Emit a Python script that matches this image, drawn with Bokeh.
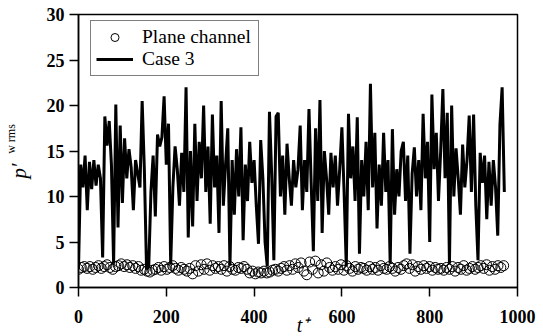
import numpy as np
from bokeh.plotting import figure
from bokeh.models import Range1d, FixedTicker, Legend, LegendItem, Title
from bokeh.embed import file_html
from bokeh.resources import INLINE

# ---------------- data ----------------
case3_t_start, case3_t_step = 0, 5
case3_values = [
    2.0, 13.5, 11.0, 14.5, 8.5, 13.8, 10.8, 14.0, 11.2, 13.5,
    12.0, 3.3, 18.8, 15.6, 18.3, 13.5, 2.6, 20.1, 6.6, 17.8,
    9.3, 16.4, 12.0, 15.2, 13.2, 8.5, 14.0, 12.5, 11.0, 20.5,
    13.0, 2.0, 2.3, 10.5, 14.5, 7.8, 16.8, 15.5, 16.5, 21.0,
    13.5, 18.0, 2.5, 11.0, 15.5, 13.0, 9.0, 14.8, 10.5, 22.0,
    5.5, 15.0, 6.7, 18.0, 9.5, 16.0, 12.0, 20.0, 10.5, 15.5,
    7.0, 19.0, 11.0, 14.5, 6.0, 20.5, 9.0, 13.5, 17.5, 2.4,
    14.0, 8.0, 15.2, 10.0, 17.6, 5.2, 13.5, 9.5, 16.0, 11.5,
    14.0, 9.0, 4.8, 16.2, 12.0, 5.0, 2.3, 19.3, 12.5, 3.0,
    18.8, 19.2, 10.0, 14.5, 8.0, 15.8, 12.0, 9.0, 14.0, 11.0,
    13.0, 17.8, 8.5, 14.0, 10.5, 19.6, 11.5, 4.0, 17.5, 9.5,
    20.6, 6.0, 15.0, 12.0, 8.0, 14.8, 11.0, 14.5, 9.0, 13.0,
    17.6, 10.5, 2.3, 19.1, 12.0, 15.5, 9.5, 18.7, 3.7, 14.0,
    10.0, 16.0, 8.5, 22.4, 11.0, 17.0, 6.5, 13.5, 9.0, 17.0,
    10.5, 14.0, 2.6, 17.4, 8.0, 13.0, 10.0, 15.0, 16.0, 9.5,
    14.5, 3.7, 12.5, 15.4, 10.0, 14.0, 8.5, 19.1, 12.0, 16.0,
    5.0, 21.2, 13.0, 17.0, 9.5, 15.0, 21.8, 12.0, 19.2, 2.6,
    20.0, 10.0, 15.3, 12.0, 8.0, 15.7, 11.0, 14.0, 18.9, 10.5,
    19.0, 9.0, 3.0, 14.8, 11.5, 14.5, 7.5, 13.8, 9.0, 14.0,
    11.0, 5.7, 17.9, 22.0, 10.5,
]

plane_t_start, plane_t_step = 0, 6.5
plane_values = [
    2.0, 2.2, 2.3, 2.1, 2.3, 2.0, 2.2, 2.4, 2.1, 2.3,
    2.5, 2.2, 2.0, 2.3, 2.4, 2.6, 2.3, 2.5, 2.2, 2.4,
    2.1, 2.3, 1.9, 2.0, 1.8, 1.7, 1.9, 2.0, 2.2, 1.9,
    2.3, 2.0, 2.2, 2.4, 2.1, 1.9, 2.2, 2.0, 1.8, 2.1,
    1.5, 2.4, 1.8, 2.5, 2.0, 2.6, 1.9, 2.4, 2.1, 2.3,
    2.0, 2.4, 1.8, 2.3, 2.0, 1.9, 2.2, 2.1, 2.3, 2.0,
    1.6, 1.8, 1.5, 1.7, 1.6, 1.8, 1.6, 1.7, 1.9, 2.0,
    1.8, 2.1, 2.3, 1.9, 2.4, 2.0, 2.6, 2.2, 2.7, 1.8,
    1.4, 2.8, 2.0, 2.9, 1.6, 2.5, 1.8, 2.7, 2.2, 1.9,
    2.3, 2.0, 2.5, 1.9, 2.4, 2.1, 1.8, 2.3, 2.0, 2.2,
    2.1, 1.9, 2.3, 2.0, 2.2, 1.9, 2.4, 2.1, 2.0, 2.3,
    2.1, 1.8, 2.2, 2.0, 2.4, 2.6, 2.1, 2.5, 1.8, 2.3,
    2.0, 2.4, 2.1, 2.3, 1.9, 2.2, 2.0, 2.1, 1.9, 2.2,
    2.0, 2.3, 1.8, 2.2, 2.0, 2.4, 1.9, 2.1, 2.3, 2.0,
    2.2, 2.4, 2.1, 2.5, 1.9, 2.3, 2.0, 2.4, 2.2, 2.4,
]

x_ticks = [0, 200, 400, 600, 800, 1000]
y_ticks = [0, 5, 10, 15, 20, 25, 30]
legend_labels = ["Plane channel", "Case 3"]

case3_t = case3_t_start + case3_t_step * np.arange(len(case3_values))
plane_t = plane_t_start + plane_t_step * np.arange(len(plane_values))

# ---------------- figure ----------------
SERIF = "Liberation Serif"
NBSP = "\u00a0"

p = figure(
    frame_width=439, frame_height=273,
    min_border_left=78, min_border_right=24, min_border_top=14, min_border_bottom=47,
    x_range=Range1d(0, 1000), y_range=Range1d(0, 30),
    output_backend="svg", toolbar_location=None,
    background_fill_color="white", border_fill_color="white",
)
p.grid.visible = False
p.outline_line_color = "black"
p.outline_line_width = 1.5

for ax, ticks in ((p.xaxis, x_ticks), (p.yaxis, y_ticks)):
    ax.ticker = FixedTicker(ticks=ticks)
    ax.minor_tick_line_color = None
    ax.major_tick_in = 0
    ax.major_tick_out = 9
    ax.major_tick_line_width = 1.5
    ax.axis_line_width = 1.5
    ax.axis_line_color = "black"
    ax.major_tick_line_color = "black"
    ax.major_label_text_font = SERIF
    ax.major_label_text_font_style = "bold"
    ax.major_label_text_font_size = "18px"
    ax.major_label_text_color = "black"
p.yaxis.major_label_standoff = 5
p.xaxis.major_label_standoff = 13

# subscript part of the y title as the axis label (shifted up with leading spaces)
p.yaxis.axis_label = NBSP * 8 + "w rms"
p.yaxis.axis_label_text_font = SERIF
p.yaxis.axis_label_text_font_style = "normal"
p.yaxis.axis_label_text_font_size = "12px"
p.yaxis.axis_label_text_color = "black"
p.yaxis.axis_label_standoff = 26

# x title t^+
p.xaxis.axis_label = NBSP * 2 + "t⁺"
p.xaxis.axis_label_text_font = SERIF
p.xaxis.axis_label_text_font_style = "italic"
p.xaxis.axis_label_text_font_size = "20px"
p.xaxis.axis_label_text_color = "black"
p.xaxis.axis_label_standoff = -12

line_r = p.line(case3_t, case3_values, line_color="black", line_width=3.0)
circ_r = p.scatter(plane_t, plane_values, marker="circle", size=10,
                   line_color="black", line_width=1, fill_color=None)

legend = Legend(
    items=[LegendItem(label=legend_labels[0], renderers=[circ_r]),
           LegendItem(label=legend_labels[1], renderers=[line_r])],
    location=(12, 211),
    label_text_font=SERIF, label_text_font_size="19.5px", label_text_color="black",
    border_line_color="black", border_line_width=1.5,
    background_fill_color="white", background_fill_alpha=1,
    padding=5, spacing=0, margin=0,
    glyph_width=37, glyph_height=20, label_height=20, label_standoff=9,
    label_width=111,
)
p.add_layout(legend)

# main part of the y title
p.add_layout(Title(text="p′", align="left", offset=109, standoff=-60,
                   text_font=SERIF, text_font_style="italic",
                   text_font_size="21px", text_color="black"), "left")

open("out.html", "w").write(file_html(p, INLINE))
